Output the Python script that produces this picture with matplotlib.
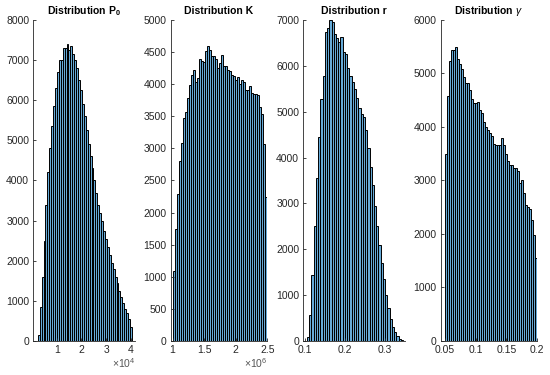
import numpy as np
import matplotlib
matplotlib.use('Agg')
import matplotlib.pyplot as plt
from matplotlib.ticker import FuncFormatter

plt.rcParams['font.family'] = ['Liberation Sans', 'DejaVu Sans']
plt.rcParams['mathtext.fontset'] = 'custom'
plt.rcParams['mathtext.rm'] = 'Liberation Sans'
plt.rcParams['mathtext.it'] = 'Liberation Sans:italic'
plt.rcParams['mathtext.bf'] = 'Liberation Sans:bold'

# histogram counts, with the range spanned by the bins
p0_range = (2300, 40400)
p0_counts = [150, 850, 1600, 2500, 3400, 4200, 4800, 5350, 5850, 6300,
             6700, 7000, 7000, 7300, 7300, 7400, 7250, 7350, 7150, 7000,
             6800, 6500, 6250, 5900, 5600, 5250, 4900, 4600, 4300, 4000,
             3700, 3400, 3200, 3000, 2750, 2550, 2350, 2150, 1950, 1800,
             1600, 1450, 1250, 1100, 950, 800, 700, 550, 350]

k_range = (1.0e6, 2.5e6)
k_counts = [1090, 1740, 2290, 2800, 3080, 3470, 3560, 3780, 3980, 4140,
            4220, 4040, 4100, 4390, 4360, 4340, 4510, 4590, 4530, 4440,
            4440, 4390, 4250, 4330, 4450, 4290, 4290, 4220, 4210, 4150,
            4130, 4060, 4110, 4010, 4070, 4040, 3910, 3910, 3970, 3860,
            3840, 3840, 3830, 3650, 3530, 3070, 2250]

r_range = (0.105, 0.345)
r_counts = [90, 560, 1440, 2510, 3550, 4450, 5270, 5780, 6730, 6820,
            7000, 6960, 6690, 6600, 6530, 6620, 6300, 6250, 5960, 5780,
            5640, 5490, 5290, 5090, 4940, 4890, 4610, 4210, 3800, 3400,
            2950, 2500, 2100, 1700, 1350, 1000, 720, 480, 310, 190,
            100, 50, 20]

g_range = (0.05, 0.2)
g_counts = [3490, 4575, 5240, 5430, 5430, 5500, 5280, 5170, 5090, 4940,
            4830, 4825, 4700, 4525, 4450, 4440, 4460, 4325, 4260, 4090,
            4000, 3950, 3890, 3825, 3690, 3670, 3670, 3670, 3790, 3670,
            3500, 3360, 3290, 3290, 3230, 3230, 3170, 2960, 3010, 2775,
            2540, 2510, 2460, 2260, 1980, 1560]

titles = [r'Distribution P$_\mathbf{0}$', 'Distribution K',
          'Distribution r', r'Distribution $\it{\gamma}$']

panels = [
    (p0_range, p0_counts, (500, 41700), 8000, 1000, [10000, 20000, 30000, 40000], 4),
    (k_range, k_counts, (0.97e6, 2.5e6), 5000, 500, [1e6, 1.5e6, 2e6, 2.5e6], 6),
    (r_range, r_counts, (0.096, 0.35), 7000, 1000, [0.1, 0.2, 0.3], 0),
    (g_range, g_counts, (0.043, 0.2), 6000, 1000, [0.05, 0.1, 0.15, 0.2], 0),
]

boxes = [(0.0606, 0.185), (0.3103, 0.1756), (0.5515, 0.185), (0.801, 0.1756)]

face = (0.0, 0.447, 0.741, 0.6)
grey = '#262626'

fig = plt.figure(figsize=(5.5, 3.75), dpi=100)

for (rng, counts, xlim, ymax, ystep, xt, expo), (left, w), title in zip(panels, boxes, titles):
    ax = fig.add_axes([left, 0.0907, w, 0.856])
    edges = np.linspace(rng[0], rng[1], len(counts) + 1)
    ax.bar(edges[:-1], counts, width=np.diff(edges), align='edge',
           color=face, edgecolor='black', linewidth=0.7)
    ax.set_xlim(*xlim)
    ax.set_ylim(0, ymax)
    ax.set_yticks(np.arange(0, ymax + 1, ystep))
    ax.set_xticks(xt)
    ax.xaxis.set_major_formatter(FuncFormatter(lambda v, p, e=expo: '%g' % round(v / 10**e, 6)))
    if expo:
        ax.text(1.0, -0.068, r'$\times10^{%d}$' % expo, transform=ax.transAxes,
                ha='right', va='center', fontsize=7.5, color='#555555')
    ax.set_title(title, fontsize=7.5, fontweight='bold', pad=4)
    for s in ('top', 'right'):
        ax.spines[s].set_visible(False)
    for s in ('left', 'bottom'):
        ax.spines[s].set_color(grey)
        ax.spines[s].set_linewidth(0.6)
    ax.tick_params(direction='in', length=2.5, width=0.6, colors=grey,
                   labelsize=7.5, pad=3)

fig.savefig('out.png', dpi=100)
